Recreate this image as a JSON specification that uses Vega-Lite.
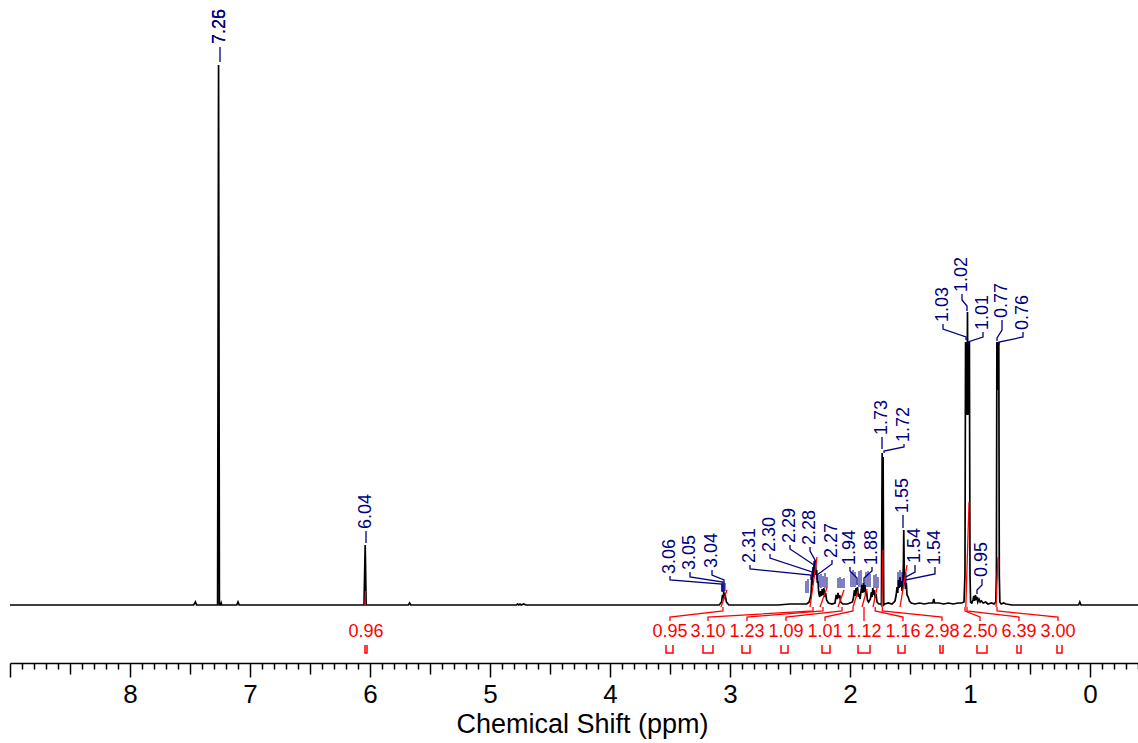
{
 "$schema": "https://vega.github.io/schema/vega-lite/v6.json",
 "width": 1128,
 "height": 663,
 "autosize": {"type": "none"},
 "padding": {"left": 10, "top": 0, "right": 0, "bottom": 80},
 "background": "white",
 "config": {"view": {"stroke": null}, "font": "Liberation Sans"},
 "datasets": {
  "spec": [
   {"ppm":9.0,"h":0},{"ppm":8.2,"h":0},{"ppm":7.6,"h":0},{"ppm":7.47,"h":0},{"ppm":7.455,"h":3},{"ppm":7.445,"h":0},{"ppm":7.3,"h":0},{"ppm":7.27,"h":0},{"ppm":7.262,"h":540},{"ppm":7.255,"h":0},{"ppm":7.245,"h":0},{"ppm":7.24,"h":2},{"ppm":7.235,"h":0},{"ppm":7.11,"h":0},{"ppm":7.1,"h":3},{"ppm":7.09,"h":0},{"ppm":6.5,"h":0},{"ppm":6.05,"h":0},{"ppm":6.04,"h":60},{"ppm":6.032,"h":0},{"ppm":5.68,"h":0},{"ppm":5.67,"h":2},{"ppm":5.66,"h":0},{"ppm":5.0,"h":0},{"ppm":4.78,"h":0},{"ppm":4.77,"h":1},{"ppm":4.76,"h":0},{"ppm":4.75,"h":1},{"ppm":4.74,"h":0},{"ppm":4.72,"h":1},{"ppm":4.7,"h":0},{"ppm":3.5,"h":0},{"ppm":3.09,"h":0},{"ppm":3.07,"h":3},{"ppm":3.063,"h":10},{"ppm":3.058,"h":7},{"ppm":3.052,"h":13},{"ppm":3.047,"h":8},{"ppm":3.04,"h":10},{"ppm":3.03,"h":3},{"ppm":3.01,"h":0},{"ppm":2.6,"h":0},{"ppm":2.5,"h":1},{"ppm":2.36,"h":1},{"ppm":2.34,"h":3},{"ppm":2.325,"h":10},{"ppm":2.318,"h":28},{"ppm":2.313,"h":20},{"ppm":2.308,"h":38},{"ppm":2.303,"h":28},{"ppm":2.298,"h":44},{"ppm":2.293,"h":34},{"ppm":2.288,"h":45},{"ppm":2.283,"h":30},{"ppm":2.278,"h":35},{"ppm":2.272,"h":22},{"ppm":2.267,"h":24},{"ppm":2.26,"h":12},{"ppm":2.252,"h":8},{"ppm":2.245,"h":14},{"ppm":2.238,"h":9},{"ppm":2.232,"h":16},{"ppm":2.225,"h":10},{"ppm":2.218,"h":17},{"ppm":2.21,"h":8},{"ppm":2.203,"h":12},{"ppm":2.195,"h":5},{"ppm":2.18,"h":2},{"ppm":2.15,"h":1},{"ppm":2.125,"h":2},{"ppm":2.115,"h":10},{"ppm":2.108,"h":6},{"ppm":2.1,"h":12},{"ppm":2.093,"h":7},{"ppm":2.086,"h":10},{"ppm":2.078,"h":3},{"ppm":2.06,"h":1},{"ppm":2.02,"h":1},{"ppm":1.98,"h":3},{"ppm":1.97,"h":8},{"ppm":1.963,"h":15},{"ppm":1.957,"h":9},{"ppm":1.95,"h":17},{"ppm":1.944,"h":10},{"ppm":1.938,"h":18},{"ppm":1.93,"h":8},{"ppm":1.923,"h":11},{"ppm":1.916,"h":6},{"ppm":1.908,"h":14},{"ppm":1.9,"h":20},{"ppm":1.894,"h":12},{"ppm":1.888,"h":22},{"ppm":1.882,"h":13},{"ppm":1.876,"h":20},{"ppm":1.869,"h":10},{"ppm":1.862,"h":14},{"ppm":1.855,"h":5},{"ppm":1.845,"h":3},{"ppm":1.83,"h":6},{"ppm":1.822,"h":13},{"ppm":1.815,"h":8},{"ppm":1.81,"h":17},{"ppm":1.803,"h":10},{"ppm":1.797,"h":15},{"ppm":1.79,"h":7},{"ppm":1.783,"h":11},{"ppm":1.775,"h":3},{"ppm":1.76,"h":1},{"ppm":1.745,"h":1},{"ppm":1.738,"h":0},{"ppm":1.732,"h":152},{"ppm":1.728,"h":120},{"ppm":1.724,"h":148},{"ppm":1.719,"h":0},{"ppm":1.71,"h":1},{"ppm":1.68,"h":2},{"ppm":1.65,"h":1},{"ppm":1.625,"h":4},{"ppm":1.615,"h":10},{"ppm":1.608,"h":18},{"ppm":1.602,"h":12},{"ppm":1.596,"h":25},{"ppm":1.59,"h":17},{"ppm":1.584,"h":28},{"ppm":1.578,"h":18},{"ppm":1.572,"h":24},{"ppm":1.566,"h":14},{"ppm":1.56,"h":22},{"ppm":1.555,"h":40},{"ppm":1.552,"h":75},{"ppm":1.548,"h":35},{"ppm":1.543,"h":24},{"ppm":1.537,"h":16},{"ppm":1.531,"h":22},{"ppm":1.525,"h":10},{"ppm":1.515,"h":8},{"ppm":1.505,"h":4},{"ppm":1.49,"h":2},{"ppm":1.46,"h":1},{"ppm":1.42,"h":2},{"ppm":1.38,"h":1},{"ppm":1.34,"h":2},{"ppm":1.31,"h":2},{"ppm":1.302,"h":6},{"ppm":1.295,"h":2},{"ppm":1.26,"h":2},{"ppm":1.22,"h":1},{"ppm":1.18,"h":2},{"ppm":1.14,"h":1},{"ppm":1.1,"h":2},{"ppm":1.07,"h":2},{"ppm":1.05,"h":3},{"ppm":1.042,"h":30},{"ppm":1.037,"h":263},{"ppm":1.033,"h":210},{"ppm":1.029,"h":262},{"ppm":1.025,"h":190},{"ppm":1.021,"h":293},{"ppm":1.017,"h":190},{"ppm":1.013,"h":262},{"ppm":1.009,"h":210},{"ppm":1.005,"h":263},{"ppm":1.0,"h":30},{"ppm":0.995,"h":3},{"ppm":0.985,"h":2},{"ppm":0.975,"h":5},{"ppm":0.968,"h":9},{"ppm":0.962,"h":4},{"ppm":0.955,"h":10},{"ppm":0.948,"h":5},{"ppm":0.942,"h":8},{"ppm":0.935,"h":3},{"ppm":0.925,"h":6},{"ppm":0.915,"h":3},{"ppm":0.905,"h":4},{"ppm":0.89,"h":2},{"ppm":0.87,"h":3},{"ppm":0.85,"h":1},{"ppm":0.82,"h":2},{"ppm":0.8,"h":1},{"ppm":0.785,"h":3},{"ppm":0.78,"h":30},{"ppm":0.776,"h":263},{"ppm":0.772,"h":215},{"ppm":0.768,"h":263},{"ppm":0.764,"h":215},{"ppm":0.76,"h":263},{"ppm":0.756,"h":30},{"ppm":0.751,"h":3},{"ppm":0.74,"h":1},{"ppm":0.72,"h":2},{"ppm":0.7,"h":1},{"ppm":0.65,"h":0},{"ppm":0.4,"h":0},{"ppm":0.095,"h":0},{"ppm":0.085,"h":3},{"ppm":0.075,"h":0},{"ppm":-0.4,"h":0}
  ],
  "nticks": [
   {"ppm":3.0667,"h":14,"h2":22},{"ppm":3.0417,"h":14,"h2":22},
   {"ppm":2.3667,"h":12,"h2":24},{"ppm":2.35,"h":12,"h2":26},
   {"ppm":2.2583,"h":18,"h2":30},{"ppm":2.2417,"h":17,"h2":31},{"ppm":2.225,"h":18,"h2":29},{"ppm":2.2083,"h":17,"h2":32},{"ppm":2.1917,"h":18,"h2":28},
   {"ppm":2.1,"h":17,"h2":27},{"ppm":2.0833,"h":17,"h2":28},{"ppm":2.0667,"h":17,"h2":26},{"ppm":2.05,"h":17,"h2":27},
   {"ppm":1.9917,"h":18,"h2":33},{"ppm":1.975,"h":18,"h2":35},{"ppm":1.9583,"h":18,"h2":33},{"ppm":1.925,"h":18,"h2":34},{"ppm":1.9083,"h":18,"h2":35},{"ppm":1.8667,"h":18,"h2":33},{"ppm":1.85,"h":18,"h2":34},{"ppm":1.8333,"h":18,"h2":31},
   {"ppm":1.8,"h":17,"h2":30},{"ppm":1.7833,"h":17,"h2":31},{"ppm":1.7667,"h":17,"h2":28},
   {"ppm":1.6,"h":20,"h2":33},{"ppm":1.5833,"h":20,"h2":35},{"ppm":1.5667,"h":20,"h2":33},{"ppm":1.5333,"h":20,"h2":32}
  ],
  "pconn": [
   {"id":"a","o":0,"ppm":7.25,"h":558},{"id":"a","o":1,"ppm":7.25,"h":543},
   {"id":"b","o":0,"ppm":6.0333,"h":74},{"id":"b","o":1,"ppm":6.0333,"h":62},
   {"id":"c","o":0,"ppm":3.5,"h":29},{"id":"c","o":1,"ppm":3.5,"h":25},{"id":"c","o":2,"ppm":3.0667,"h":21},{"id":"c","o":3,"ppm":3.0667,"h":13},
   {"id":"d","o":0,"ppm":3.3333,"h":33},{"id":"d","o":1,"ppm":3.3333,"h":28},{"id":"d","o":2,"ppm":3.0583,"h":23},{"id":"d","o":3,"ppm":3.0583,"h":13},
   {"id":"e","o":0,"ppm":3.15,"h":35},{"id":"e","o":1,"ppm":3.15,"h":30},{"id":"e","o":2,"ppm":3.05,"h":25},{"id":"e","o":3,"ppm":3.05,"h":13},
   {"id":"f","o":0,"ppm":2.8333,"h":40},{"id":"f","o":1,"ppm":2.8333,"h":36},{"id":"f","o":2,"ppm":2.325,"h":30},{"id":"f","o":3,"ppm":2.325,"h":25},
   {"id":"g","o":0,"ppm":2.6667,"h":51},{"id":"g","o":1,"ppm":2.6667,"h":47},{"id":"g","o":2,"ppm":2.3167,"h":33},{"id":"g","o":3,"ppm":2.3167,"h":27},
   {"id":"h","o":0,"ppm":2.5,"h":60},{"id":"h","o":1,"ppm":2.5,"h":56},{"id":"h","o":2,"ppm":2.3,"h":40},{"id":"h","o":3,"ppm":2.3,"h":33},
   {"id":"i","o":0,"ppm":2.3333,"h":58},{"id":"i","o":1,"ppm":2.3333,"h":54},{"id":"i","o":2,"ppm":2.2917,"h":45},{"id":"i","o":3,"ppm":2.2917,"h":39},
   {"id":"j","o":0,"ppm":2.15,"h":45},{"id":"j","o":1,"ppm":2.15,"h":41},{"id":"j","o":2,"ppm":2.275,"h":30},{"id":"j","o":3,"ppm":2.275,"h":25},
   {"id":"k","o":0,"ppm":2.0,"h":38},{"id":"k","o":1,"ppm":2.0,"h":34},{"id":"k","o":2,"ppm":1.9417,"h":27},{"id":"k","o":3,"ppm":1.9417,"h":20},
   {"id":"l","o":0,"ppm":1.8167,"h":38},{"id":"l","o":1,"ppm":1.8167,"h":34},{"id":"l","o":2,"ppm":1.8833,"h":27},{"id":"l","o":3,"ppm":1.8833,"h":20},
   {"id":"m","o":0,"ppm":1.7333,"h":168},{"id":"m","o":1,"ppm":1.7333,"h":156},
   {"id":"n","o":0,"ppm":1.55,"h":161},{"id":"n","o":1,"ppm":1.55,"h":158},{"id":"n","o":2,"ppm":1.7167,"h":154},{"id":"n","o":3,"ppm":1.7167,"h":152},
   {"id":"o","o":0,"ppm":1.5583,"h":90},{"id":"o","o":1,"ppm":1.5583,"h":77},
   {"id":"p","o":0,"ppm":1.4583,"h":40},{"id":"p","o":1,"ppm":1.4583,"h":33},{"id":"p","o":2,"ppm":1.55,"h":27},{"id":"p","o":3,"ppm":1.55,"h":23},
   {"id":"q","o":0,"ppm":1.2917,"h":38},{"id":"q","o":1,"ppm":1.2917,"h":31},{"id":"q","o":2,"ppm":1.5417,"h":25},{"id":"q","o":3,"ppm":1.5417,"h":20},
   {"id":"r","o":0,"ppm":1.225,"h":281},{"id":"r","o":1,"ppm":1.225,"h":276},{"id":"r","o":2,"ppm":1.0333,"h":268},{"id":"r","o":3,"ppm":1.0333,"h":265},
   {"id":"s","o":0,"ppm":1.0667,"h":311},{"id":"s","o":1,"ppm":1.0667,"h":305},{"id":"s","o":2,"ppm":1.025,"h":299},{"id":"s","o":3,"ppm":1.025,"h":294},
   {"id":"t","o":0,"ppm":0.8917,"h":273},{"id":"t","o":1,"ppm":0.8917,"h":268},{"id":"t","o":2,"ppm":1.0167,"h":263},{"id":"t","o":3,"ppm":1.0167,"h":260},
   {"id":"u","o":0,"ppm":0.7333,"h":285},{"id":"u","o":1,"ppm":0.7333,"h":275},{"id":"u","o":2,"ppm":0.775,"h":267},{"id":"u","o":3,"ppm":0.775,"h":264},
   {"id":"v","o":0,"ppm":0.5583,"h":273},{"id":"v","o":1,"ppm":0.5583,"h":268},{"id":"v","o":2,"ppm":0.7583,"h":263},{"id":"v","o":3,"ppm":0.7583,"h":260},
   {"id":"w","o":0,"ppm":0.9,"h":26},{"id":"w","o":1,"ppm":0.9,"h":20},{"id":"w","o":2,"ppm":0.9417,"h":15},{"id":"w","o":3,"ppm":0.9417,"h":11}
  ],
  "plabels": [
   {"t":"7.26","ppm":7.25,"h":561},{"t":"7.25","ppm":7.25,"h":561},
   {"t":"6.04","ppm":6.0333,"h":76},
   {"t":"3.06","ppm":3.5,"h":31},{"t":"3.05","ppm":3.3333,"h":35},{"t":"3.04","ppm":3.15,"h":37},
   {"t":"2.31","ppm":2.8333,"h":42},{"t":"2.30","ppm":2.6667,"h":53},{"t":"2.29","ppm":2.5,"h":62},{"t":"2.28","ppm":2.3333,"h":60},{"t":"2.27","ppm":2.15,"h":47},
   {"t":"1.94","ppm":2.0,"h":40},{"t":"1.88","ppm":1.8167,"h":40},
   {"t":"1.73","ppm":1.7333,"h":170},{"t":"1.72","ppm":1.55,"h":163},
   {"t":"1.55","ppm":1.5583,"h":92},{"t":"1.54","ppm":1.4583,"h":42},{"t":"1.54","ppm":1.2917,"h":40},
   {"t":"1.03","ppm":1.225,"h":283},{"t":"1.02","ppm":1.0667,"h":313},{"t":"1.01","ppm":0.8917,"h":275},
   {"t":"0.77","ppm":0.7333,"h":287},{"t":"0.76","ppm":0.5583,"h":275},{"t":"0.95","ppm":0.9,"h":28}
  ],
  "ints": [
   {"id":"I1","o":0,"ppm":6.043,"h":-1},{"id":"I1","o":1,"ppm":6.037,"h":14},
   {"id":"I2","o":0,"ppm":3.075,"h":-2},{"id":"I2","o":1,"ppm":3.025,"h":15},
   {"id":"I3","o":0,"ppm":2.333,"h":-2},{"id":"I3","o":1,"ppm":2.275,"h":48},
   {"id":"I4","o":0,"ppm":2.25,"h":-2},{"id":"I4","o":1,"ppm":2.19,"h":18},
   {"id":"I5","o":0,"ppm":2.1,"h":-2},{"id":"I5","o":1,"ppm":2.05,"h":15},
   {"id":"I6","o":0,"ppm":1.975,"h":-2},{"id":"I6","o":1,"ppm":1.933,"h":14},
   {"id":"I7","o":0,"ppm":1.9,"h":-2},{"id":"I7","o":1,"ppm":1.858,"h":16},
   {"id":"I8","o":0,"ppm":1.808,"h":-2},{"id":"I8","o":1,"ppm":1.775,"h":17},
   {"id":"I9","o":0,"ppm":1.735,"h":-2},{"id":"I9","o":1,"ppm":1.725,"h":55},
   {"id":"I10","o":0,"ppm":1.583,"h":-2},{"id":"I10","o":1,"ppm":1.525,"h":40},
   {"id":"I11","o":0,"ppm":1.035,"h":-2},{"id":"I11","o":1,"ppm":1.008,"h":103},
   {"id":"I12","o":0,"ppm":0.783,"h":-2},{"id":"I12","o":1,"ppm":0.767,"h":48}
  ],
  "iconn": [
   {"id":"J2","o":0,"ppm":3.0583,"h":-2},{"id":"J2","o":1,"ppm":3.0583,"h":-6},{"id":"J2","o":2,"ppm":3.5,"h":-12},{"id":"J2","o":3,"ppm":3.5,"h":-16},
   {"id":"J3","o":0,"ppm":2.3083,"h":-2},{"id":"J3","o":1,"ppm":2.3083,"h":-6},{"id":"J3","o":2,"ppm":3.1833,"h":-12},{"id":"J3","o":3,"ppm":3.1833,"h":-16},
   {"id":"J4","o":0,"ppm":2.225,"h":-2},{"id":"J4","o":1,"ppm":2.225,"h":-6},{"id":"J4","o":2,"ppm":2.8583,"h":-12},{"id":"J4","o":3,"ppm":2.8583,"h":-16},
   {"id":"J5","o":0,"ppm":2.0667,"h":-2},{"id":"J5","o":1,"ppm":2.0667,"h":-6},{"id":"J5","o":2,"ppm":2.5333,"h":-12},{"id":"J5","o":3,"ppm":2.5333,"h":-16},
   {"id":"J6","o":0,"ppm":1.975,"h":-2},{"id":"J6","o":1,"ppm":1.975,"h":-6},{"id":"J6","o":2,"ppm":2.2083,"h":-12},{"id":"J6","o":3,"ppm":2.2083,"h":-16},
   {"id":"J7","o":0,"ppm":1.8833,"h":-2},{"id":"J7","o":1,"ppm":1.8833,"h":-6},{"id":"J7","o":2,"ppm":1.8834,"h":-12},{"id":"J7","o":3,"ppm":1.8834,"h":-16},
   {"id":"J8","o":0,"ppm":1.79,"h":-2},{"id":"J8","o":1,"ppm":1.79,"h":-6},{"id":"J8","o":2,"ppm":1.5583,"h":-12},{"id":"J8","o":3,"ppm":1.5583,"h":-16},
   {"id":"J9","o":0,"ppm":1.73,"h":-2},{"id":"J9","o":1,"ppm":1.73,"h":-6},{"id":"J9","o":2,"ppm":1.2333,"h":-12},{"id":"J9","o":3,"ppm":1.2333,"h":-16},
   {"id":"J10","o":0,"ppm":1.0417,"h":-2},{"id":"J10","o":1,"ppm":1.0417,"h":-6},{"id":"J10","o":2,"ppm":0.9167,"h":-12},{"id":"J10","o":3,"ppm":0.9167,"h":-16},
   {"id":"J11","o":0,"ppm":1.025,"h":-2},{"id":"J11","o":1,"ppm":1.025,"h":-6},{"id":"J11","o":2,"ppm":0.5917,"h":-12},{"id":"J11","o":3,"ppm":0.5917,"h":-16},
   {"id":"J12","o":0,"ppm":0.775,"h":-2},{"id":"J12","o":1,"ppm":0.775,"h":-6},{"id":"J12","o":2,"ppm":0.2667,"h":-12},{"id":"J12","o":3,"ppm":0.2667,"h":-16}
  ],
  "ilabels": [
   {"t":"0.96","ppm":6.0333,"h":-27},{"t":"0.95","ppm":3.5,"h":-27},{"t":"3.10","ppm":3.1833,"h":-27},{"t":"1.23","ppm":2.8583,"h":-27},{"t":"1.09","ppm":2.5333,"h":-27},{"t":"1.01","ppm":2.2083,"h":-27},{"t":"1.12","ppm":1.8833,"h":-27},{"t":"1.16","ppm":1.5583,"h":-27},{"t":"2.98","ppm":1.2333,"h":-27},{"t":"2.50","ppm":0.9167,"h":-27},{"t":"6.39","ppm":0.5917,"h":-27},{"t":"3.00","ppm":0.2667,"h":-27}
  ],
  "imarks": [
   {"id":"M1","o":0,"ppm":6.0417,"h":-40},{"id":"M1","o":1,"ppm":6.0417,"h":-48},{"id":"M1","o":2,"ppm":6.025,"h":-48},{"id":"M1","o":3,"ppm":6.025,"h":-40},
   {"id":"M2","o":0,"ppm":3.5333,"h":-40},{"id":"M2","o":1,"ppm":3.5333,"h":-48},{"id":"M2","o":2,"ppm":3.475,"h":-48},{"id":"M2","o":3,"ppm":3.475,"h":-40},
   {"id":"M3","o":0,"ppm":3.225,"h":-40},{"id":"M3","o":1,"ppm":3.225,"h":-48},{"id":"M3","o":2,"ppm":3.1417,"h":-48},{"id":"M3","o":3,"ppm":3.1417,"h":-40},
   {"id":"M4","o":0,"ppm":2.9,"h":-40},{"id":"M4","o":1,"ppm":2.9,"h":-48},{"id":"M4","o":2,"ppm":2.8333,"h":-48},{"id":"M4","o":3,"ppm":2.8333,"h":-40},
   {"id":"M5","o":0,"ppm":2.575,"h":-40},{"id":"M5","o":1,"ppm":2.575,"h":-48},{"id":"M5","o":2,"ppm":2.5167,"h":-48},{"id":"M5","o":3,"ppm":2.5167,"h":-40},
   {"id":"M6","o":0,"ppm":2.2333,"h":-40},{"id":"M6","o":1,"ppm":2.2333,"h":-48},{"id":"M6","o":2,"ppm":2.1667,"h":-48},{"id":"M6","o":3,"ppm":2.1667,"h":-40},
   {"id":"M7","o":0,"ppm":1.9333,"h":-40},{"id":"M7","o":1,"ppm":1.9333,"h":-48},{"id":"M7","o":2,"ppm":1.8333,"h":-48},{"id":"M7","o":3,"ppm":1.8333,"h":-40},
   {"id":"M8","o":0,"ppm":1.6,"h":-40},{"id":"M8","o":1,"ppm":1.6,"h":-48},{"id":"M8","o":2,"ppm":1.5417,"h":-48},{"id":"M8","o":3,"ppm":1.5417,"h":-40},
   {"id":"M9","o":0,"ppm":1.25,"h":-40},{"id":"M9","o":1,"ppm":1.25,"h":-48},{"id":"M9","o":2,"ppm":1.225,"h":-48},{"id":"M9","o":3,"ppm":1.225,"h":-40},
   {"id":"M10","o":0,"ppm":0.9417,"h":-40},{"id":"M10","o":1,"ppm":0.9417,"h":-48},{"id":"M10","o":2,"ppm":0.8583,"h":-48},{"id":"M10","o":3,"ppm":0.8583,"h":-40},
   {"id":"M11","o":0,"ppm":0.6083,"h":-40},{"id":"M11","o":1,"ppm":0.6083,"h":-48},{"id":"M11","o":2,"ppm":0.575,"h":-48},{"id":"M11","o":3,"ppm":0.575,"h":-40},
   {"id":"M12","o":0,"ppm":0.275,"h":-40},{"id":"M12","o":1,"ppm":0.275,"h":-48},{"id":"M12","o":2,"ppm":0.2333,"h":-48},{"id":"M12","o":3,"ppm":0.2333,"h":-40}
  ]
 },
 "encoding": {
  "x": {
   "field": "ppm", "type": "quantitative",
   "scale": {"domain": [-0.4, 9.0], "reverse": true, "nice": false, "zero": false},
   "axis": {
    "values": [-0.4,-0.3,-0.2,-0.1,0,0.1,0.2,0.3,0.4,0.5,0.6,0.7,0.8,0.9,1,1.1,1.2,1.3,1.4,1.5,1.6,1.7,1.8,1.9,2,2.1,2.2,2.3,2.4,2.5,2.6,2.7,2.8,2.9,3,3.1,3.2,3.3,3.4,3.5,3.6,3.7,3.8,3.9,4,4.1,4.2,4.3,4.4,4.5,4.6,4.7,4.8,4.9,5,5.1,5.2,5.3,5.4,5.5,5.6,5.7,5.8,5.9,6,6.1,6.2,6.3,6.4,6.5,6.6,6.7,6.8,6.9,7,7.1,7.2,7.3,7.4,7.5,7.6,7.7,7.8,7.9,8,8.1,8.2,8.3,8.4,8.5,8.6,8.7,8.8,8.9,9],
    "labelExpr": "abs(datum.value - round(datum.value)) < 0.001 && datum.value < 8.5 ? format(round(datum.value), 'd') : ''",
    "tickSize": {"condition": [{"test": "abs(datum.value - round(datum.value)) < 0.001", "value": 14}, {"test": "abs(datum.value * 2 - round(datum.value * 2)) < 0.001", "value": 11}], "value": 6},
    "tickColor": "black", "tickWidth": 1.5, "domainColor": "black", "domainWidth": 1.5,
    "labelFontSize": 26, "labelColor": "black", "labelFont": "Liberation Sans", "labelPadding": 4,
    "labelOverlap": false, "labelFlush": false, "grid": false,
    "title": "Chemical Shift (ppm)", "titleFontSize": 27, "titleFontWeight": "normal", "titleColor": "black", "titleFont": "Liberation Sans", "titlePadding": 4, "titleX": 572
   }
  },
  "y": {"field": "h", "type": "quantitative", "scale": {"domain": [-58, 605], "nice": false, "zero": false}, "axis": null}
 },
 "layer": [
  {"data": {"name": "spec"}, "mark": {"type": "line", "color": "black", "strokeWidth": 1.7}},
  {"data": {"name": "nticks"}, "mark": {"type": "rule", "color": "#000080", "strokeWidth": 1}, "encoding": {"y2": {"field": "h2"}}},
  {"data": {"name": "pconn"}, "mark": {"type": "line", "color": "#000080", "strokeWidth": 1.3}, "encoding": {"detail": {"field": "id"}, "order": {"field": "o"}}},
  {"data": {"name": "plabels"}, "mark": {"type": "text", "angle": 270, "align": "left", "baseline": "middle", "fontSize": 18, "font": "Liberation Sans", "color": "#000080"}, "encoding": {"text": {"field": "t"}}},
  {"data": {"name": "ints"}, "mark": {"type": "line", "color": "#ff0000", "strokeWidth": 1.3}, "encoding": {"detail": {"field": "id"}, "order": {"field": "o"}}},
  {"data": {"name": "iconn"}, "mark": {"type": "line", "color": "#ff0000", "strokeWidth": 1.3}, "encoding": {"detail": {"field": "id"}, "order": {"field": "o"}}},
  {"data": {"name": "ilabels"}, "mark": {"type": "text", "align": "center", "baseline": "middle", "fontSize": 18, "font": "Liberation Sans", "color": "#ff0000"}, "encoding": {"text": {"field": "t"}}},
  {"data": {"name": "imarks"}, "mark": {"type": "line", "color": "#ff0000", "strokeWidth": 1.5}, "encoding": {"detail": {"field": "id"}, "order": {"field": "o"}}}
 ]
}
